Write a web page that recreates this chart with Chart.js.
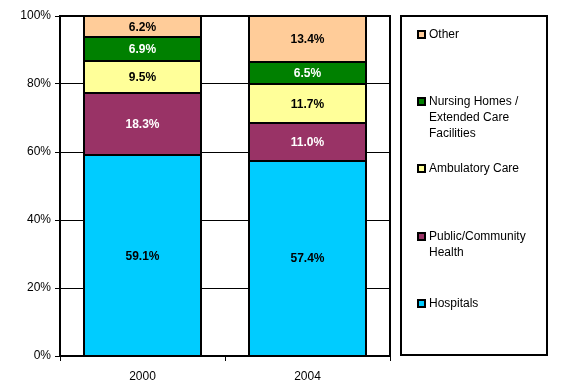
<!DOCTYPE html>
<html>
<head>
<meta charset="utf-8">
<script src="https://cdn.jsdelivr.net/npm/chart.js@4/dist/chart.umd.min.js"></script>
<style>
  html, body { margin: 0; padding: 0; background: #fff; }
  #wrap { width: 578px; height: 392px; position: relative; }
</style>
</head>
<body>
<div id="wrap"><canvas id="chart" width="578" height="392"></canvas></div>
<script>
// ---------------- DATA ----------------
const years = ['2000', '2004'];
const hospitals = [59.1, 57.4];
const publicHealth = [18.3, 11.0];
const ambulatory = [9.5, 11.7];
const nursing = [6.9, 6.5];
const other = [6.2, 13.4];
const yTicks = [0, 20, 40, 60, 80, 100];

// series from bottom to top of the stack
const SERIES = [
  { label: ['Hospitals'], data: hospitals, color: '#00CCFF', text: '#000' },
  { label: ['Public/Community', 'Health'], data: publicHealth, color: '#993366', text: '#fff' },
  { label: ['Ambulatory Care'], data: ambulatory, color: '#FFFF99', text: '#000' },
  { label: ['Nursing Homes /', 'Extended Care', 'Facilities'], data: nursing, color: '#008000', text: '#fff' },
  { label: ['Other'], data: other, color: '#FFCC99', text: '#000' }
];

const FONT = 'Arial, "Liberation Sans", sans-serif';

// contours + valeurs dans les segments
const segLabels = {
  id: 'segLabels',
  afterDatasetsDraw(chart) {
    const ctx = chart.ctx;
    ctx.save();
    ctx.strokeStyle = '#000';
    ctx.lineWidth = 2;
    chart.data.datasets.forEach((ds, i) => {
      chart.getDatasetMeta(i).data.forEach(bar => {
        const x0 = Math.round(bar.x - bar.width / 2);
        const x1 = Math.round(bar.x + bar.width / 2);
        const y0 = Math.round(bar.y), y1 = Math.round(bar.base);
        ctx.strokeRect(x0, y0, x1 - x0, y1 - y0);
      });
    });
    ctx.font = 'bold 12px ' + FONT;
    ctx.textAlign = 'center';
    ctx.textBaseline = 'middle';
    chart.data.datasets.forEach((ds, i) => {
      chart.getDatasetMeta(i).data.forEach((bar, j) => {
        const mid = (bar.y + bar.base) / 2;
        ctx.fillStyle = SERIES[i].text;
        ctx.fillText(ds.data[j].toFixed(1) + '%', bar.x, mid + 1);
      });
    });
    ctx.restore();
  }
};

// cadre du graphique + légende
const frame = {
  id: 'frame',
  afterDraw(chart) {
    const ctx = chart.ctx;
    const a = chart.chartArea;
    ctx.save();
    ctx.strokeStyle = '#000';
    ctx.lineWidth = 2;
    ctx.strokeRect(a.left, a.top, a.right - a.left, a.bottom - a.top);

    // legend box
    ctx.strokeRect(401, 16, 146, 339);
    const rows = [34, 101, 168, 236, 303]; // top to bottom
    const order = SERIES.slice().reverse();
    ctx.font = '12px ' + FONT;
    ctx.textBaseline = 'middle';
    ctx.textAlign = 'left';
    order.forEach((s, k) => {
      const y = rows[k];
      ctx.fillStyle = '#000';
      ctx.fillRect(417, y - 4, 9, 9);
      ctx.fillStyle = s.color;
      ctx.fillRect(419, y - 2, 5, 5);
      ctx.fillStyle = '#000';
      s.label.forEach((line, n) => ctx.fillText(line, 429, y + 1 + n * 16));
    });
    ctx.restore();
  }
};

new Chart(document.getElementById('chart'), {
  type: 'bar',
  data: {
    labels: years,
    datasets: SERIES.map(s => ({
      label: s.label.join(' '),
      data: s.data,
      backgroundColor: s.color,
      borderWidth: 0,
      barPercentage: 0.71,
      categoryPercentage: 1
    }))
  },
  options: {
    responsive: false,
    animation: false,
    layout: { padding: { left: 0, top: 16, right: 188, bottom: 0 } },
    plugins: { legend: { display: false }, tooltip: { enabled: false } },
    scales: {
      x: {
        stacked: true,
        grid: { offset: true, drawOnChartArea: false, drawTicks: true, tickLength: 5, color: '#000', lineWidth: 1 },
        border: { display: false },
        ticks: { color: '#000', font: { family: FONT, size: 12 }, padding: 8 },
        afterFit(scale) { scale.height = 36; }
      },
      y: {
        stacked: true,
        min: 0,
        max: 100,
        afterBuildTicks(scale) { scale.ticks = yTicks.map(v => ({ value: v })); },
        grid: { color: '#000', lineWidth: 1, tickLength: 5 },
        border: { display: false },
        ticks: { color: '#000', font: { family: FONT, size: 12 }, padding: 4, callback: v => v + '%' },
        afterFit(scale) { scale.width = 60; }
      }
    }
  },
  plugins: [segLabels, frame]
});
</script>
</body>
</html>
